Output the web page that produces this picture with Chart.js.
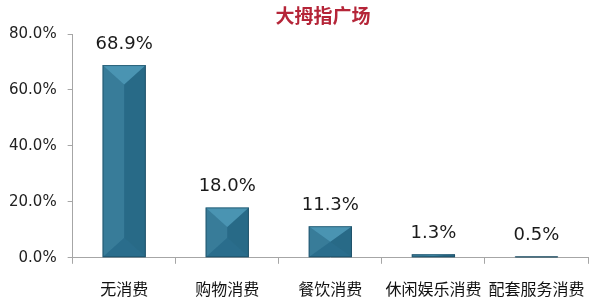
<!DOCTYPE html>
<html><head><meta charset="utf-8">
<script src="https://cdn.jsdelivr.net/npm/chart.js@4/dist/chart.umd.min.js"></script>
<style>html,body{margin:0;padding:0;background:#fff}#wrap{width:591px;height:302px}</style>
</head><body><div id="wrap"><canvas id="c" width="591" height="302"></canvas></div>
<script>
const titleText = '大拇指广场';
const categories = ['无消费', '购物消费', '餐饮消费', '休闲娱乐消费', '配套服务消费'];
const values = [68.9, 18.0, 11.3, 1.3, 0.5];
const yTicks = [0, 20, 40, 60, 80];

const numFont = '"DejaVu Sans", "Noto Sans CJK SC", sans-serif';
const cjkFont = '"Noto Sans CJK SC", "DejaVu Sans", sans-serif';

const bevelPlugin = {
  id: 'bevel',
  afterDatasetsDraw(chart) {
    const ctx = chart.ctx;
    const meta = chart.getDatasetMeta(0);
    ctx.save();
    meta.data.forEach((bar) => {
      const p = bar.getProps(['x', 'y', 'base', 'width'], true);
      const l = p.x - p.width / 2, r = p.x + p.width / 2;
      const t = p.y, b = p.base;
      const h = b - t;
      const d = Math.min(p.width * 0.45, h / 2);
      const ty = t + d, by = b - d;
      ctx.fillStyle = 'rgba(255,255,255,0.05)';
      ctx.beginPath(); ctx.moveTo(l, t); ctx.lineTo(p.x, ty); ctx.lineTo(p.x, by); ctx.lineTo(l, b); ctx.closePath(); ctx.fill();
      ctx.fillStyle = 'rgba(0,20,40,0.11)';
      ctx.beginPath(); ctx.moveTo(r, t); ctx.lineTo(p.x, ty); ctx.lineTo(p.x, by); ctx.lineTo(r, b); ctx.closePath(); ctx.fill();
      ctx.fillStyle = 'rgba(120,200,230,0.38)';
      ctx.beginPath(); ctx.moveTo(l, t); ctx.lineTo(r, t); ctx.lineTo(p.x, ty); ctx.closePath(); ctx.fill();
      ctx.fillStyle = 'rgba(0,30,50,0.08)';
      ctx.beginPath(); ctx.moveTo(l, b); ctx.lineTo(r, b); ctx.lineTo(p.x, by); ctx.closePath(); ctx.fill();
      ctx.strokeStyle = 'rgba(20,60,80,0.55)';
      ctx.lineWidth = 1;
      ctx.strokeRect(l + 0.5, t + 0.5, p.width - 1, Math.max(h - 1, 0));
    });
    ctx.fillStyle = '#1a1a1a';
    ctx.font = '18px ' + numFont;
    ctx.textAlign = 'center';
    ctx.textBaseline = 'alphabetic';
    meta.data.forEach((bar, i) => {
      ctx.fillText(values[i].toFixed(1) + '%', bar.x, bar.y - 16);
    });
    ctx.fillStyle = '#B52538';
    ctx.font = 'bold 19px ' + cjkFont;
    ctx.textBaseline = 'middle';
    ctx.fillText(titleText, 323, 16);
    ctx.restore();
  }
};

new Chart(document.getElementById('c'), {
  type: 'bar',
  data: {
    labels: categories,
    datasets: [{
      data: values,
      backgroundColor: '#2E7594',
      borderWidth: 0,
      barPercentage: 0.42,
      categoryPercentage: 1.0
    }]
  },
  options: {
    responsive: false,
    animation: false,
    layout: { padding: { top: 34, left: -2, right: 3, bottom: -13 } },
    plugins: { legend: { display: false }, tooltip: { enabled: false }, title: { display: false } },
    scales: {
      x: {
        offset: true,
        afterFit(scale) { scale.paddingRight = 0; scale.paddingLeft = 0; },
        grid: { display: true, drawOnChartArea: false, offset: true, tickLength: 6, color: '#A6A6A6' },
        border: { color: '#A6A6A6' },
        ticks: { color: '#111', font: { family: cjkFont, size: 16 }, padding: 16, maxRotation: 0, autoSkip: false }
      },
      y: {
        min: 0, max: 80,
        afterBuildTicks(axis) { axis.ticks = yTicks.map(v => ({ value: v })); },
        grid: { display: true, drawOnChartArea: false, tickLength: 5, color: '#A6A6A6' },
        border: { color: '#A6A6A6' },
        ticks: { color: '#222', font: { family: numFont, size: 15 }, padding: 11, callback: v => v.toFixed(1) + '%' }
      }
    }
  },
  plugins: [bevelPlugin]
});
</script></body></html>
